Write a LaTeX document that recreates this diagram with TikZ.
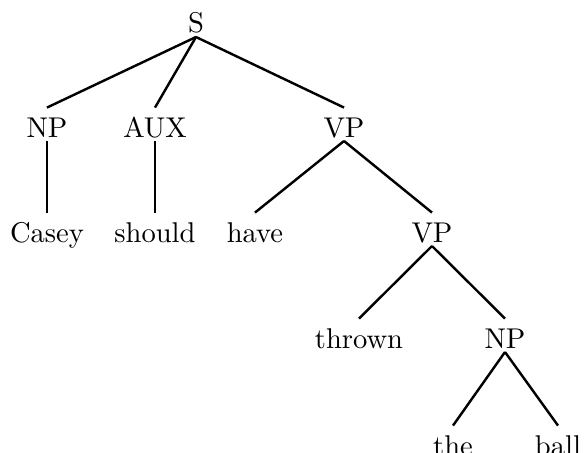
\documentclass[tikz,border=0pt]{standalone}
\begin{document}
\begin{tikzpicture}[x=0.35pt,y=-0.35pt,
  lbl/.style={font=\fontsize{10}{12}\selectfont, inner sep=0pt, outer sep=0pt,
              text height=10.3pt, text depth=1.4pt, anchor=base},
  edge/.style={line width=0.85pt}]
\useasboundingbox (0,0) rectangle (584,453);
\clip (0,0) rectangle (584,453);
\node[lbl] (S) at (196,33) {S};
\node[lbl] (NPa) at (47,137) {NP};
\node[lbl] (AUX) at (155,137) {AUX};
\node[lbl] (VPa) at (344,137) {VP};
\node[lbl] (Casey) at (47,242) {Casey};
\node[lbl] (should) at (155,242) {should};
\node[lbl] (have) at (255,242) {have};
\node[lbl] (VPb) at (432,242) {VP};
\node[lbl] (thrown) at (359,348) {thrown};
\node[lbl] (NPb) at (505,348) {NP};
\node[lbl] (the) at (453,455) {the};
\node[lbl] (ball) at (558,455) {ball};
\draw[edge] (S.south) -- (NPa.north);
\draw[edge] (S.south) -- (AUX.north);
\draw[edge] (S.south) -- (VPa.north);
\draw[edge] (NPa.south) -- (Casey.north);
\draw[edge] (AUX.south) -- (should.north);
\draw[edge] (VPa.south) -- (have.north);
\draw[edge] (VPa.south) -- (VPb.north);
\draw[edge] (VPb.south) -- (thrown.north);
\draw[edge] (VPb.south) -- (NPb.north);
\draw[edge] (NPb.south) -- (the.north);
\draw[edge] (NPb.south) -- (ball.north);
\end{tikzpicture}
\end{document}
